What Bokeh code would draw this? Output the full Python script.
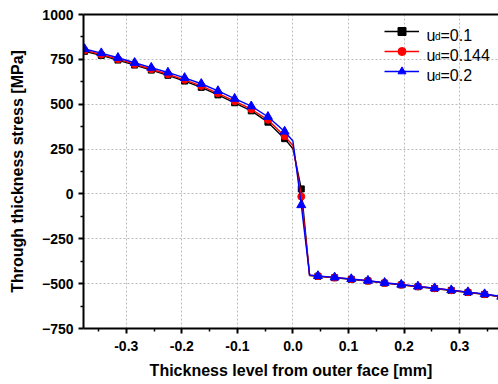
from bokeh.plotting import figure
from bokeh.models import (Range1d, FixedTicker, NumeralTickFormatter, LinearAxis,
                          Legend, LegendItem, Label, IndexFilter, CDSView, ColumnDataSource)
from bokeh.embed import file_html
from bokeh.resources import INLINE

# ---------------- data ----------------
x_mm = [-0.375, -0.345, -0.315, -0.285, -0.255, -0.225, -0.195, -0.165, -0.135, -0.105,
        -0.075, -0.045, -0.015, 0.0, 0.015, 0.03, 0.045, 0.075, 0.105, 0.135, 0.165,
        0.195, 0.225, 0.255, 0.285, 0.315, 0.345, 0.375]
stress_ud_01 = [795, 772, 746, 718, 690, 661, 629, 594, 552, 508, 463, 400, 308, 252, 28,
                -455, -459, -467, -476, -485, -497, -507, -517, -527, -538, -549, -560, -574]
stress_ud_0144 = [800, 777, 751, 723, 695, 667, 636, 602, 561, 517, 472, 413, 322, 270, -15,
                  -454, -458, -466, -475, -484, -496, -506, -516, -526, -537, -548, -559, -573]
stress_ud_02 = [808, 785, 759, 731, 704, 677, 647, 614, 574, 531, 489, 430, 348, 295, -62,
                -452, -457, -465, -474, -483, -495, -505, -515, -525, -536, -547, -558, -572]
line_only_x = [0.0, 0.03]          # line vertices drawn without a marker
ud_values = ["0.1", "0.144", "0.2"]
x_ticks = [-0.3, -0.2, -0.1, 0.0, 0.1, 0.2, 0.3]
y_ticks = [-750, -500, -250, 0, 250, 500, 750, 1000]

FONT = "Liberation Sans"

p = figure(width=498, height=384, x_range=Range1d(-0.377, 0.370), y_range=Range1d(-750, 1000),
           output_backend="svg", toolbar_location=None,
           min_border_left=83, min_border_right=0, min_border_top=14, min_border_bottom=56)
p.outline_line_color = None
p.background_fill_color = "white"
p.border_fill_color = "white"

x_minor = [x_ticks[0] - 0.05] + [t + 0.05 for t in x_ticks]
y_minor = [t + 125 for t in y_ticks[:-1]]

xax = p.xaxis[0]
yax = p.yaxis[0]
xax.ticker = FixedTicker(ticks=x_ticks, minor_ticks=x_minor)
yax.ticker = FixedTicker(ticks=y_ticks, minor_ticks=y_minor)
xax.formatter = NumeralTickFormatter(format="0.0")
xax.axis_label = "Thickness level from outer face [mm]"
yax.axis_label = "Through thickness stress [MPa]"
for ax in (xax, yax):
    ax.axis_line_width = 2
    ax.axis_line_color = "black"
    ax.major_tick_line_width = 2
    ax.major_tick_line_color = "black"
    ax.major_tick_out = 5
    ax.major_tick_in = 0
    ax.minor_tick_line_width = 1.5
    ax.minor_tick_line_color = "black"
    ax.minor_tick_out = 3
    ax.minor_tick_in = 0
    ax.major_label_text_font = FONT
    ax.major_label_text_font_style = "bold"
    ax.major_label_text_font_size = "14px"
    ax.major_label_text_color = "black"
    ax.axis_label_text_font = FONT
    ax.axis_label_text_font_style = "bold"
    ax.axis_label_text_font_size = "16px"
    ax.axis_label_text_color = "black"
xax.major_label_standoff = 7
xax.axis_label_standoff = 8
yax.major_label_standoff = 5
yax.axis_label_standoff = 13

top_ax = LinearAxis(ticker=FixedTicker(ticks=[]), axis_line_width=2, axis_line_color="black",
                    major_tick_out=0, major_tick_in=0, minor_tick_out=0, minor_tick_in=0,
                    major_label_text_font_size="0px", major_label_standoff=0)
p.add_layout(top_ax, "above")

for g in (p.xgrid[0], p.ygrid[0]):
    g.grid_line_color = "#bdbdbd"
    g.grid_line_dash = "2 2"
    g.grid_line_width = 1
p.xgrid[0].ticker = FixedTicker(ticks=x_ticks)
p.ygrid[0].ticker = FixedTicker(ticks=y_ticks)

src = ColumnDataSource(dict(x=x_mm, s1=stress_ud_01, s2=stress_ud_0144, s3=stress_ud_02))
marker_idx = [i for i, v in enumerate(x_mm) if v not in line_only_x]
view = CDSView(filter=IndexFilter(marker_idx))

series = [
    ("s1", "black", "square", 6),
    ("s2", "red", "circle", 7),
    ("s3", "blue", "triangle", 9),
]
items = []
for (col, color, marker, size) in series:
    lr = p.line("x", col, source=src, line_color=color, line_width=1.4)
    sr = p.scatter("x", col, source=src, view=view, marker=marker, size=size,
                   fill_color=color, line_color=color)
    items.append(LegendItem(label=" ", renderers=[lr, sr]))

legend = Legend(items=items, location=(301, 247), orientation="vertical",
                glyph_width=35, glyph_height=20, label_height=20, label_width=1,
                padding=0, margin=0, spacing=0, label_standoff=0,
                label_text_font_size="8px",
                border_line_color=None, background_fill_alpha=0)
p.add_layout(legend)

# legend texts with subscript "d"
for i, ud in enumerate(ud_values):
    base = 293.3 - i * 20
    p.add_layout(Label(x=343, y=base, x_units="screen", y_units="screen", text="u",
                       text_font=FONT, text_font_size="16px", text_baseline="alphabetic",
                       text_color="black"))
    p.add_layout(Label(x=351.5, y=base - 1.3, x_units="screen", y_units="screen", text="d",
                       text_font=FONT, text_font_size="10px", text_baseline="alphabetic",
                       text_color="black"))
    p.add_layout(Label(x=357, y=base, x_units="screen", y_units="screen", text="=" + ud,
                       text_font=FONT, text_font_size="16px", text_baseline="alphabetic",
                       text_color="black"))

open("out.html", "w").write(file_html(p, INLINE))
